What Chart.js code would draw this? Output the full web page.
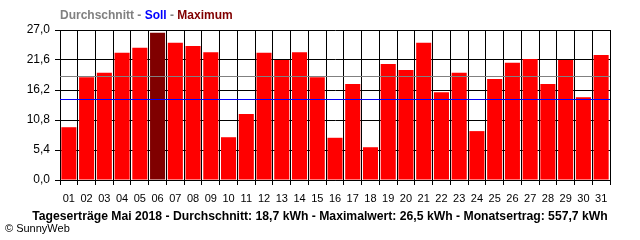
<!DOCTYPE html>
<html>
<head>
<meta charset="utf-8">
<script src="https://cdn.jsdelivr.net/npm/chart.js@4"></script>
<style>
  html, body { margin: 0; padding: 0; background: #fff; }
  #wrap { width: 640px; height: 240px; position: relative; }
</style>
</head>
<body>
<div id="wrap"><canvas id="dayChart"></canvas></div>
<script>
// Tageserträge Mai 2018 (kWh)
const days = ['01','02','03','04','05','06','07','08','09','10','11','12','13','14','15','16',
  '17','18','19','20','21','22','23','24','25','26','27','28','29','30','31'];
const yields = [9.5, 18.5, 19.3, 22.9, 23.8, 26.5, 24.7, 24.1, 23.0, 7.7, 11.9, 22.9, 21.6, 23.0, 18.5, 7.6,
  17.3, 5.9, 20.9, 19.8, 24.7, 15.8, 19.3, 8.8, 18.2, 21.1, 21.8, 17.3, 21.6, 14.9, 22.5];
const yTicks = [0, 5.4, 10.8, 16.2, 21.6, 27.0];
const average = 18.7;
const target = 14.5;
const footer = 'Tageserträge Mai 2018 - Durchschnitt: 18,7 kWh - Maximalwert: 26,5 kWh - Monatsertrag: 557,7 kWh';

const maxVal = Math.max(...yields);
const barColors = yields.map(v => v === maxVal ? '#800000' : '#ff0000');

// draws the reference lines, the coloured legend title and the footer text
const extras = {
  id: 'extras',
  afterDatasetsDraw(chart) {
    const { ctx, chartArea, scales } = chart;
    ctx.save();
    [[average, '#808080'], [target, '#0000ff']].forEach(([v, c]) => {
      const y = Math.round(scales.y.getPixelForValue(v)) + 0.5;
      ctx.strokeStyle = c;
      ctx.lineWidth = 1;
      ctx.beginPath();
      ctx.moveTo(chartArea.left, y);
      ctx.lineTo(chartArea.right, y);
      ctx.stroke();
    });
    ctx.restore();
  },
  afterDraw(chart) {
    const { ctx } = chart;
    ctx.save();
    ctx.font = 'bold 12px "Liberation Sans", Arial, sans-serif';
    ctx.textBaseline = 'middle';
    let x = 60;
    [['Durchschnitt', '#808080'], [' - ', '#808080'], ['Soll', '#0000ff'], [' - ', '#808080'], ['Maximum', '#800000']]
      .forEach(([t, c]) => {
        ctx.fillStyle = c;
        ctx.fillText(t, x, 16);
        x += ctx.measureText(t).width;
      });
    ctx.fillStyle = '#000';
    ctx.textAlign = 'center';
    ctx.font = 'bold 12.2px "Liberation Sans", Arial, sans-serif';
    ctx.fillText(footer, 320, 217);
    ctx.font = '11px "Liberation Sans", Arial, sans-serif';
    ctx.textAlign = 'left';
    ctx.fillText('© SunnyWeb', 5, 229);
    ctx.restore();
  }
};

new Chart(document.getElementById('dayChart'), {
  type: 'bar',
  data: {
    labels: days,
    datasets: [{
      data: yields,
      backgroundColor: barColors,
      borderWidth: 0,
      categoryPercentage: 1,
      barPercentage: 0.85
    }]
  },
  options: {
    responsive: true,
    maintainAspectRatio: false,
    animation: false,
    layout: { padding: { left: 0, right: 30, top: 30, bottom: 0 } },
    plugins: {
      legend: { display: false },
      tooltip: { enabled: false }
    },
    scales: {
      x: {
        grid: { color: '#000', lineWidth: 1, tickLength: 5, offset: true },
        border: { color: '#000', width: 1 },
        ticks: {
          color: '#000',
          font: { family: 'Liberation Sans', size: 11 },
          padding: 7,
          maxRotation: 0,
          autoSkip: false
        },
        afterFit: (s) => { s.height = 60; }
      },
      y: {
        min: 0,
        max: 27,
        afterBuildTicks: (s) => { s.ticks = yTicks.map(v => ({ value: v })); },
        grid: { color: '#000', lineWidth: 1, tickLength: 5 },
        border: { color: '#000', width: 1 },
        ticks: {
          color: '#000',
          font: { family: 'Liberation Sans', size: 12 },
          padding: 5,
          callback: (v) => Number(v).toFixed(1).replace('.', ',')
        },
        afterFit: (s) => { s.width = 60; }
      }
    }
  },
  plugins: [extras]
});
</script>
</body>
</html>
